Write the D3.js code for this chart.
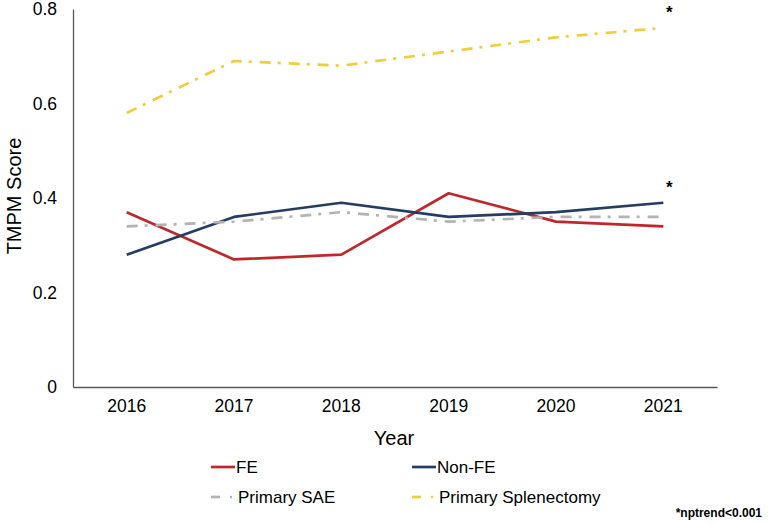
<!DOCTYPE html>
<html>
<head>
<meta charset="utf-8">
<script src="https://cdn.jsdelivr.net/npm/d3@7"></script>
<style>
  body { margin: 0; background: #fff; }
  svg { font-family: Arial, "Liberation Sans", sans-serif; }
</style>
</head>
<body>
<svg width="768" height="525"></svg>
<script>
// данные
const years = [2016, 2017, 2018, 2019, 2020, 2021];
const fe = [0.37, 0.27, 0.28, 0.41, 0.35, 0.34];
const nonFe = [0.28, 0.36, 0.39, 0.36, 0.37, 0.39];
const primarySae = [0.34, 0.35, 0.37, 0.35, 0.36, 0.36];
const primarySplen = [0.58, 0.69, 0.68, 0.71, 0.74, 0.76];
const yTicks = [0, 0.2, 0.4, 0.6, 0.8];

const series = [
    { name: "FE", values: fe, color: "#c0272d", dash: null },
    { name: "Non-FE", values: nonFe, color: "#253c63", dash: null },
    { name: "Primary SAE", values: primarySae, color: "#b3b3b3", dash: "11,7,3,8" },
    { name: "Primary Splenectomy", values: primarySplen, color: "#f0cd3a", dash: "11,7,3,8" }
];

const svg = d3.select("svg");
const area = { left: 73, right: 717, top: 9, bottom: 387 };

const scX = d3.scaleBand()
    .domain(years)
    .range([area.left, area.right]);

const scY = d3.scaleLinear()
    .domain([0, 0.8])
    .range([area.bottom, area.top]);

// оси
const axisX = d3.axisBottom(scX).tickSize(0).tickPadding(13);
const axisY = d3.axisLeft(scY).tickValues(yTicks).tickSize(0).tickPadding(16)
    .tickFormat(d => d === 0 ? "0" : d3.format(".1f")(d));

const gx = svg.append("g")
    .attr("transform", `translate(0, ${area.bottom})`)
    .call(axisX);
gx.select(".domain").attr("stroke", "#595959").attr("stroke-width", 1.3);
gx.selectAll("text").style("font-size", "17.5px").style("font-family", "Arial, 'Liberation Sans', sans-serif").attr("fill", "#000");

const gy = svg.append("g")
    .attr("transform", `translate(${area.left}, 0)`)
    .call(axisY);
gy.select(".domain").attr("stroke", "#595959").attr("stroke-width", 1.3);
gy.selectAll("text").style("font-size", "17.5px").style("font-family", "Arial, 'Liberation Sans', sans-serif").attr("fill", "#000");

// подписи осей
svg.append("text")
    .attr("x", 394).attr("y", 445)
    .attr("text-anchor", "middle")
    .style("font-size", "20px")
    .text("Year");

svg.append("text")
    .attr("transform", "translate(21, 196) rotate(-90)")
    .attr("text-anchor", "middle")
    .style("font-size", "20px")
    .text("TMPM Score");

// линии
const line = d3.line()
    .x((d, i) => scX(years[i]) + scX.bandwidth() / 2)
    .y(d => scY(d));

series.forEach(s => {
    svg.append("path")
        .datum(s.values)
        .attr("d", line)
        .attr("fill", "none")
        .attr("stroke", s.color)
        .attr("stroke-width", 2.7)
        .attr("stroke-dasharray", s.dash)
        .attr("stroke-linejoin", "round");
});

// звёздочки у 2021
const xLast = scX(2021) + scX.bandwidth() / 2;
[primarySplen, nonFe].forEach(v => {
    svg.append("text")
        .attr("x", xLast + 6)
        .attr("y", scY(v[v.length - 1]) - 10)
        .attr("text-anchor", "middle")
        .style("font-size", "17px")
        .style("font-weight", "bold")
        .text("*");
});

// легенда
const legendPos = [
    { x: 211, y: 467 },
    { x: 412, y: 467 },
    { x: 211, y: 497 },
    { x: 412, y: 497 }
];
series.forEach((s, i) => {
    const p = legendPos[i];
    const g = svg.append("g").attr("transform", `translate(${p.x}, ${p.y})`);
    if (s.dash) {
        g.append("line").attr("x1", 0).attr("x2", 9).attr("y1", 0).attr("y2", 0)
            .attr("stroke", s.color).attr("stroke-width", 2.7);
        g.append("line").attr("x1", 19).attr("x2", 21).attr("y1", 0).attr("y2", 0)
            .attr("stroke", s.color).attr("stroke-width", 2.7);
    } else {
        g.append("line").attr("x1", 0).attr("x2", 24).attr("y1", 0).attr("y2", 0)
            .attr("stroke", s.color).attr("stroke-width", 2.7);
    }
    g.append("text")
        .attr("x", s.dash ? 27 : 25)
        .attr("y", 0)
        .attr("dy", "0.35em")
        .style("font-size", "17px")
        .text(s.name);
});

svg.append("text")
    .attr("x", 762).attr("y", 517)
    .attr("text-anchor", "end")
    .style("font-size", "12px")
    .style("font-weight", "bold")
    .text("*nptrend<0.001");
</script>
</body>
</html>
